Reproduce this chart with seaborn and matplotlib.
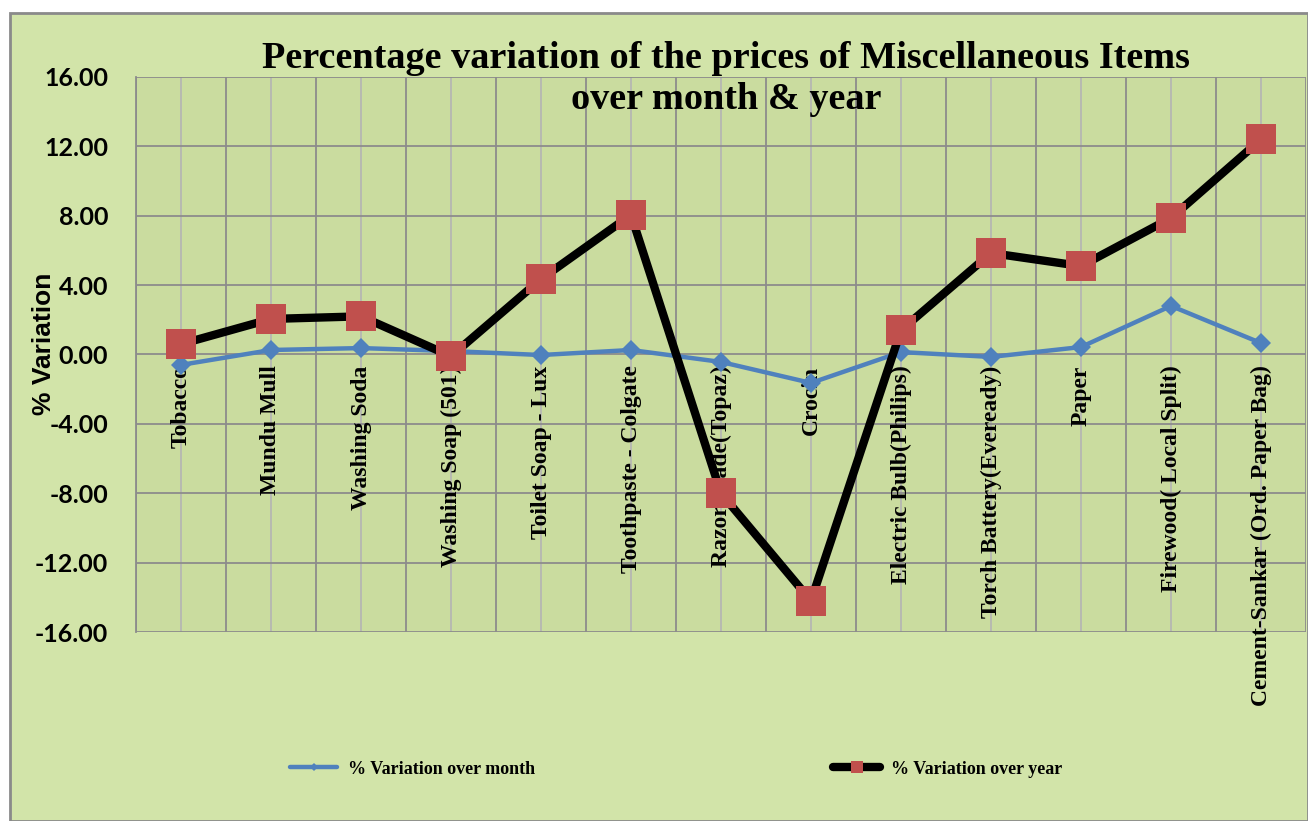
import numpy as np
import pandas as pd
import matplotlib
matplotlib.use("Agg")
import matplotlib.pyplot as plt
from matplotlib.patches import Rectangle
import seaborn as sns

# Dati
items = ["Tobacco", "Mundu Mull", "Washing Soda", "Washing Soap (501)", "Toilet Soap - Lux",
         "Toothpaste - Colgate", "Razor Blade(Topaz)", "Crocin", "Electric Bulb(Philips)",
         "Torch Battery(Eveready)", "Paper", "Firewood( Local Split)",
         "Cement-Sankar (Ord. Paper Bag)"]
var_month = [-0.60, 0.26, 0.37, 0.20, -0.03, 0.26, -0.43, -1.64, 0.14, -0.14, 0.43, 2.80, 0.66]
var_year = [0.60, 2.05, 2.20, -0.10, 4.35, 8.05, -8.00, -14.20, 1.40, 5.85, 5.10, 7.87, 12.40]
y_ticks = [16, 12, 8, 4, 0, -4, -8, -12, -16]

df = pd.DataFrame({"pos": np.arange(len(items)), "item": items,
                   "month": var_month, "year": var_year})

sns.set_style("white")
plt.rcParams["font.family"] = ["Liberation Serif", "DejaVu Serif"]
plt.rcParams["text.color"] = "black"
plt.rcParams["ytick.color"] = "black"
plt.rcParams["axes.labelcolor"] = "black"

fig = plt.figure(figsize=(13.08, 8.21), dpi=100)
fig.patch.set_facecolor("white")
# area del grafico (sfondo verde)
fig.patches.append(Rectangle((10 / 1308, 0), 1 - 10 / 1308, 1 - 13 / 821,
                             transform=fig.transFigure, facecolor="#d2e4a9",
                             edgecolor="#8a8a8a", linewidth=2, zorder=-5))

ax = fig.add_axes([136 / 1308, 1 - 632 / 821, 1170 / 1308, 555 / 821])
ax.set_facecolor("#cadc9f")

# griglia
for i in range(len(items) + 1):
    ax.axvline(i - 0.5, color="#8c8c8c", lw=1.3, zorder=1)
for i in range(len(items)):
    ax.axvline(i, color="#b4b4b4", lw=1.2, zorder=1)
for t in y_ticks:
    ax.axhline(t, color="#8c8c8c", lw=1.3, zorder=1)

sns.lineplot(data=df, x="pos", y="month", ax=ax, color="#4f81bd", lw=3.2,
             marker="D", markersize=10.5, markeredgewidth=0, zorder=3,
             label="% Variation over month")
sns.lineplot(data=df, x="pos", y="year", ax=ax, color="black", lw=6,
             marker="s", markersize=22, markerfacecolor="#c0504d",
             markeredgecolor="#c0504d", markeredgewidth=0, zorder=4,
             label="% Variation over year")

ax.set_xlim(-0.5, len(items) - 0.5)
ax.set_ylim(-16, 16)
ax.set_yticks(y_ticks)
ax.set_yticklabels([f"{t:.2f}" for t in y_ticks], fontsize=18, fontweight="bold",
                   family=["Lato", "DejaVu Sans"])
ax.tick_params(axis="y", length=7, width=1.3, color="#8c8c8c", direction="out", pad=13)
ax.set_xticks([])
ax.set_xlabel("")
ax.set_ylabel("% Variation", fontsize=19, fontweight="bold",
              family=["Liberation Sans", "DejaVu Sans"])
ax.yaxis.set_label_coords(-0.068, 0.52)
for s in ["top", "right", "bottom"]:
    ax.spines[s].set_visible(False)
ax.spines["left"].set_color("#8c8c8c")
ax.spines["left"].set_linewidth(1.3)

# etichette delle categorie lungo l'asse dello zero
for i, name in enumerate(items):
    ax.annotate(name, xy=(i, 0), xytext=(0, -8), textcoords="offset points",
                rotation=90, ha="center", va="top", fontsize=17, fontweight="bold",
                annotation_clip=False, zorder=2)

fig.text(0.555, 0.904, "Percentage variation of the prices of Miscellaneous Items\nover month & year",
         ha="center", va="center", fontsize=27.5, fontweight="bold", linespacing=1.2)

ax.get_legend().remove()
h, l = ax.get_legend_handles_labels()
leg = fig.legend(h, l, loc="center", bbox_to_anchor=(0.517, 0.063), ncol=2,
                 frameon=False, columnspacing=16.5, handlelength=2.6, handletextpad=0.6,
                 markerscale=0.4, prop={"weight": "bold", "size": 13})

fig.savefig("out.png", dpi=100)
